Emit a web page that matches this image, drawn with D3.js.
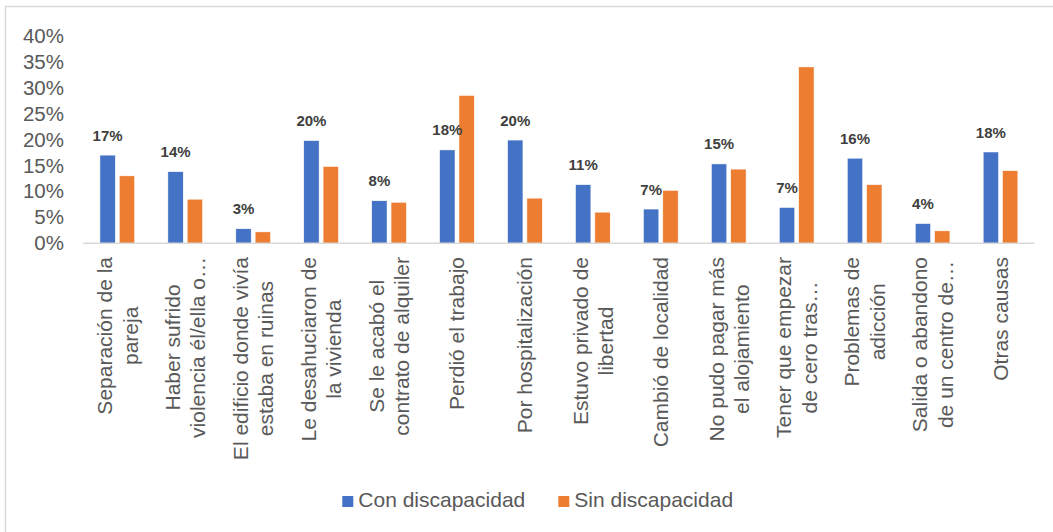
<!DOCTYPE html>
<html>
<head>
<meta charset="utf-8">
<script src="https://cdn.jsdelivr.net/npm/d3@7"></script>
<style>
  html, body { margin: 0; padding: 0; background: #fff; }
  svg { display: block; font-family: "Liberation Sans", Arial, sans-serif; }
</style>
</head>
<body>
<svg id="chart" width="1053" height="532"></svg>
<script>
const categories = [
  ["Separación de la", "pareja"],
  ["Haber sufrido", "violencia él/ella o…"],
  ["El edificio donde vivía", "estaba en ruinas"],
  ["Le desahuciaron de", "la vivienda"],
  ["Se le acabó el", "contrato de alquiler"],
  ["Perdió el trabajo"],
  ["Por hospitalización"],
  ["Estuvo privado de", "libertad"],
  ["Cambió de localidad"],
  ["No pudo pagar más", "el alojamiento"],
  ["Tener que empezar", "de cero tras…"],
  ["Problemas de", "adicción"],
  ["Salida o abandono", "de un centro de…"],
  ["Otras causas"]
];
const seriesNames = ["Con discapacidad", "Sin discapacidad"];
const conDiscapacidad = [17.0, 13.8, 2.8, 19.8, 8.2, 18.0, 19.9, 11.3, 6.6, 15.3, 6.9, 16.4, 3.8, 17.6];
const sinDiscapacidad = [13.0, 8.5, 2.2, 14.8, 7.9, 28.5, 8.7, 6.0, 10.2, 14.3, 34.0, 11.3, 2.4, 14.0];
const yTicks = [0, 5, 10, 15, 20, 25, 30, 35, 40];
const colors = ["#4472C4", "#ED7D31"];

const svg = d3.select("#chart");
const textColor = "#595959";

// frame (top + left border of the chart area)
svg.append("line").attr("x1", 5.5).attr("x2", 5.5).attr("y1", 6).attr("y2", 532)
  .attr("stroke", "#D9D9D9").attr("stroke-width", 1.5);
svg.append("line").attr("x1", 5).attr("x2", 1053).attr("y1", 6.5).attr("y2", 6.5)
  .attr("stroke", "#D9D9D9").attr("stroke-width", 1.5);

const keys = categories.map((c, i) => i);
const x0 = d3.scaleBand().domain(keys).range([83.3, 1034.5])
  .paddingInner(0.49).paddingOuter(0.245);
const x1 = d3.scaleBand().domain(seriesNames).range([0, x0.bandwidth()])
  .paddingInner(0.207).paddingOuter(0);
const y = d3.scaleLinear().domain([0, 40]).range([243.3, 35.8]);

const data = keys.map(i => ({ i, values: [conDiscapacidad[i], sinDiscapacidad[i]] }));

// bars
const groups = svg.append("g").selectAll("g").data(data).join("g")
  .attr("transform", d => `translate(${x0(d.i)},0)`);
groups.selectAll("rect").data(d => d.values.map((v, k) => ({ v, k })))
  .join("rect")
  .attr("x", d => x1(seriesNames[d.k]))
  .attr("width", x1.bandwidth())
  .attr("y", d => y(d.v))
  .attr("height", d => y(0) - y(d.v))
  .attr("fill", d => colors[d.k])
  .attr("stroke", "#ffffff").attr("stroke-width", 0.5);

// data labels (only first series)
groups.append("text")
  .attr("x", x1(seriesNames[0]) + x1.bandwidth() / 2)
  .attr("y", d => y(d.values[0]) - 14.5)
  .attr("text-anchor", "middle")
  .attr("font-size", "15px").attr("font-weight", "bold")
  .attr("fill", "#404040")
  .text(d => Math.round(d.values[0]) + "%");

// y axis (labels only)
const yAxis = d3.axisLeft(y).tickValues(yTicks).tickSize(0).tickPadding(0)
  .tickFormat(d => d + "%");
const yg = svg.append("g").attr("transform", "translate(64,0)").call(yAxis);
yg.select(".domain").remove();
yg.selectAll("text").attr("font-size", "20.5px").attr("fill", textColor)
  .attr("font-family", "Liberation Sans, Arial, sans-serif");

// x axis line
const xAxis = d3.axisBottom(x0).tickSize(0).tickFormat("");
const xg = svg.append("g").attr("transform", `translate(0,${y(0)})`).call(xAxis);
xg.select(".domain").attr("stroke", "#D9D9D9").attr("stroke-width", 1.5)
  .attr("d", `M83.3,0H1034.5`);

// category labels rotated
const labelTop = 257;
const lineH = 25.5;
const lg = svg.append("g").attr("font-size", "21px").attr("fill", textColor);
data.forEach(d => {
  const lines = categories[d.i];
  const cx = x0(d.i) + x0.bandwidth() / 2;
  const g = lg.append("g").attr("transform", `translate(${cx},0) rotate(-90)`);
  const texts = lines.map((ln, k) => g.append("text")
    .attr("text-anchor", "middle")
    .attr("y", (k - (lines.length - 1) / 2) * lineH + 7.5)
    .text(ln));
  const maxW = d3.max(texts, t => t.node().getComputedTextLength());
  texts.forEach(t => t.attr("x", -(labelTop + maxW / 2)));
});

// legend
const legend = svg.append("g").attr("font-size", "21px").attr("fill", textColor);
const legendX = [342.3, 558.3];
seriesNames.forEach((name, k) => {
  legend.append("rect").attr("x", legendX[k]).attr("y", 496)
    .attr("width", 11).attr("height", 11).attr("fill", colors[k]);
  legend.append("text").attr("x", legendX[k] + 16).attr("y", 507)
    .text(name);
});
</script>
</body>
</html>
